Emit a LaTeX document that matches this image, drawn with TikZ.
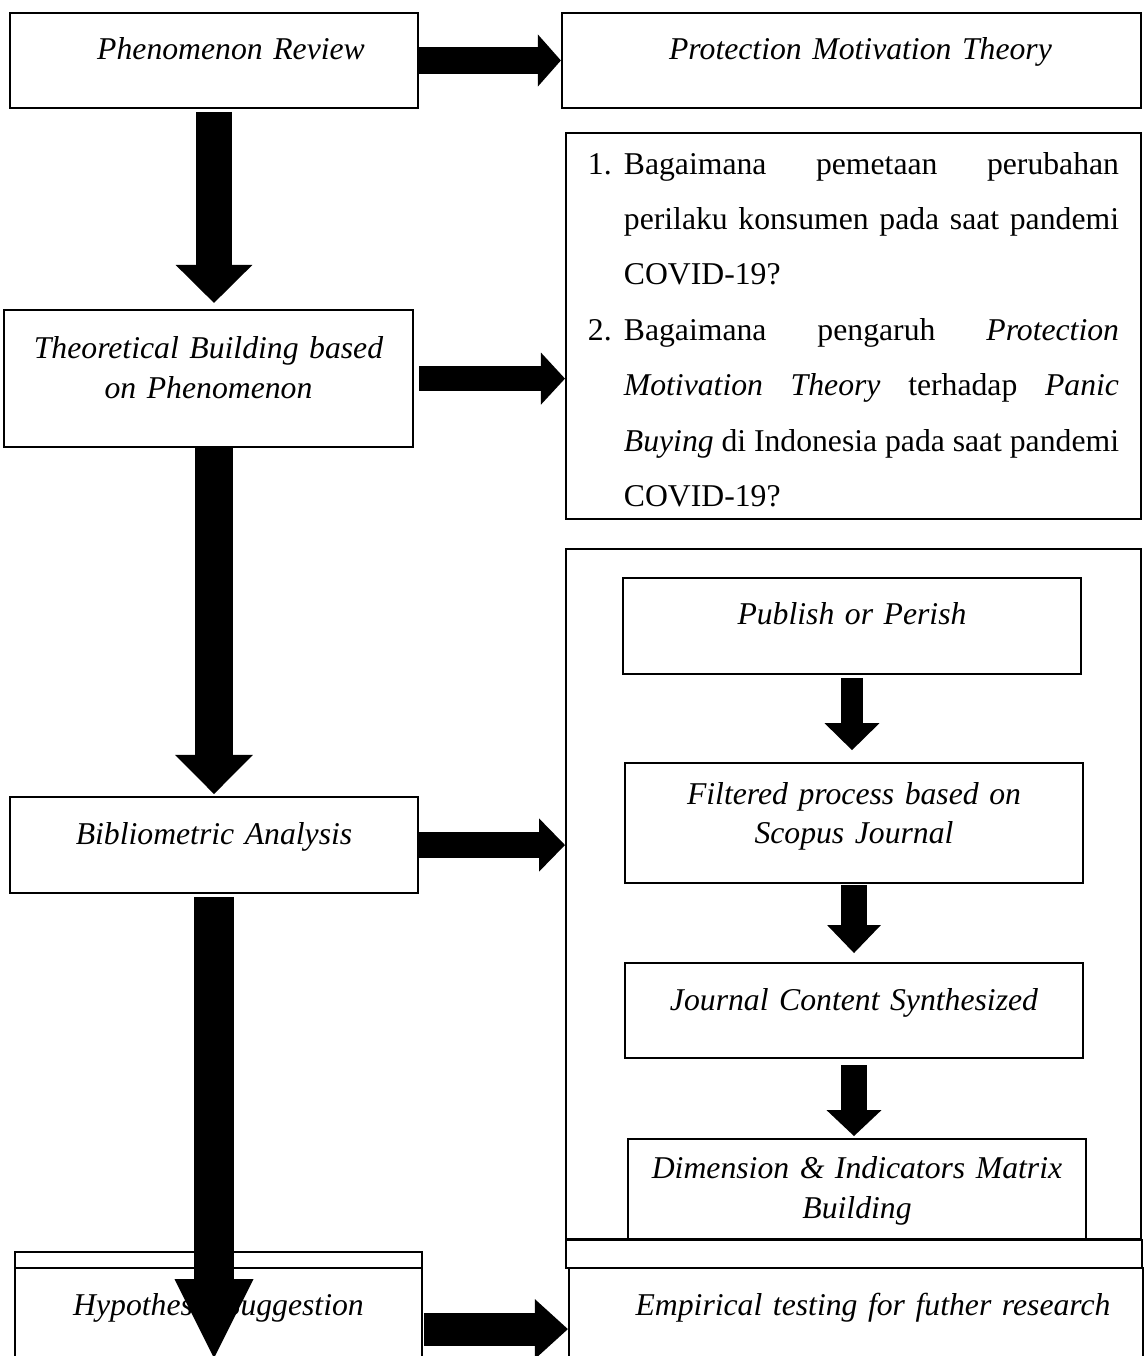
\documentclass[tikz,border=0pt]{standalone}
\usepackage{fontspec}
\setmainfont{Liberation Serif}
\usetikzlibrary{arrows.meta}

% one picture unit = one pixel of the original figure
\tikzset{
  blk/.style={draw, line width=0.8pt, inner sep=0pt, anchor=north, align=center,
    font=\itshape\fontsize{12}{15.1}\selectfont},
  blkarr/.style n args={3}{line width=#1, -{Triangle[width=#2, length=#3, line width=0pt]}}
}
\newcommand{\qline}[1]{\makebox[187.4pt][l]{#1}}
\newcommand{\qnum}[1]{\makebox[13.6pt][l]{#1}}

\begin{document}
\begin{tikzpicture}[x=0.3785pt, y=-0.3785pt]
    \useasboundingbox (0,0) rectangle (1144,1356);
    \clip (0,0) rectangle (1144,1356);
    % left column
    \node[blk, text width=154.4pt, text height=17.4pt, text depth=18.5pt] (pr) at (214,12) {\hspace*{12.9pt}Phenomenon Review};
    \node[blk, text width=154.8pt, text height=18.2pt, text depth=33.7pt] (tb) at (208.5,309) {Theoretical Building based\\on Phenomenon};
    \node[blk, text width=154.4pt, text height=17.8pt, text depth=18.5pt] (ba) at (214,796) {Bibliometric Analysis};
    \node[blk, minimum width=154pt, minimum height=6.1pt] (hyp0) at (218.5,1251) {};
    \node[blk, text width=154pt, text height=17.8pt, text depth=28.4pt] (hyp) at (218.5,1267) {Hypothesis Suggestion};
    % right column
    \node[blk, text width=219.2pt, text height=17.4pt, text depth=18.5pt] (pmt) at (851.5,12) {\hspace*{6.8pt}Protection Motivation Theory};
    \node[blk, font=\fontsize{12}{21}\selectfont, align=left, text width=201pt, inner xsep=8.3pt,
      text height=15.5pt, text depth=130.6pt] (rq) at (853.5,132) {%
      \qnum{1.}\qline{Bagaimana\hfill pemetaan\hfill perubahan}\\
      \hspace*{13.6pt}\qline{perilaku\hfill konsumen\hfill pada\hfill saat\hfill pandemi}\\
      \hspace*{13.6pt}COVID-19?\\
      \qnum{2.}\qline{Bagaimana\hfill pengaruh\hfill\textit{Protection}}\\
      \hspace*{13.6pt}\qline{\textit{Motivation}\hfill\textit{Theory}\hfill terhadap\hfill\textit{Panic}}\\
      \hspace*{13.6pt}\qline{\textit{Buying}\hfill di\hfill Indonesia\hfill pada\hfill saat\hfill pandemi}\\
      \hspace*{13.6pt}COVID-19?};
    \node[blk, minimum width=217.6pt, minimum height=261.2pt] (lit) at (853.5,548) {};
    \node[blk, text width=173.4pt, text height=17.4pt, text depth=18.9pt] (pop) at (852,577) {Publish or Perish};
    \node[blk, text width=173.4pt, text height=15.5pt, text depth=29.9pt] (flt) at (854,762) {Filtered process based on\\Scopus Journal};
    \node[blk, text width=173.4pt, text height=17.8pt, text depth=18.2pt] (jcs) at (854,962) {Journal Content Synthesized};
    \node[blk, text width=173.4pt, text height=15.1pt, text depth=23.1pt] (dim) at (857,1138) {Dimension \& Indicators Matrix\\Building};
    \node[blk, minimum width=218pt, minimum height=10.6pt] (band) at (854,1239) {};
    \node[blk, text width=217.3pt, text height=17.8pt, text depth=28.4pt] (emp) at (856,1267) {\hspace*{12.9pt}Empirical testing for futher research};
    % block arrows
    \draw[blkarr={10.2pt}{19.7pt}{8.7pt}] (pr.east) -- (pmt.west);
    \draw[blkarr={14pt}{29.1pt}{14.4pt}, shorten <=1.1pt, shorten >=2.3pt, xshift=0.8pt] (pr.south) -- (pr.south |- tb.north);
    \draw[blkarr={9.5pt}{19.7pt}{9.1pt}, shorten <=1.9pt] (tb.east) -- (tb.east -| rq.west);
    \draw[blkarr={14.4pt}{29.5pt}{14.8pt}, shorten >=0.75pt] (ba.north |- tb.south) -- (ba.north);
    \draw[blkarr={9.8pt}{20.1pt}{9.8pt}] (ba.east) -- (ba.east -| lit.west);
    \draw[blkarr={14.8pt}{29.9pt}{29.9pt}, shorten <=1.1pt, shorten >=12.5pt, xshift=-0.6pt] (ba.south) -- (ba.south |- hyp.south);
    \draw[blkarr={12.5pt}{22.7pt}{12.5pt}, shorten <=0.4pt] (hyp.east) -- (emp.west);
    \draw[blkarr={8pt}{20.8pt}{10.2pt}, shorten <=1.1pt, shorten >=4.5pt, xshift=1.9pt] (pop.south) -- (pop.south |- flt.north);
    \draw[blkarr={9.8pt}{20.4pt}{10.6pt}, shorten <=0.4pt, shorten >=3.4pt, xshift=1.1pt] (flt.south) -- (flt.south |- jcs.north);
    \draw[blkarr={9.8pt}{20.8pt}{9.8pt}, shorten <=2.3pt, shorten >=0.75pt, xshift=1.9pt] (jcs.south) -- (jcs.south |- dim.north);
\end{tikzpicture}
\end{document}
